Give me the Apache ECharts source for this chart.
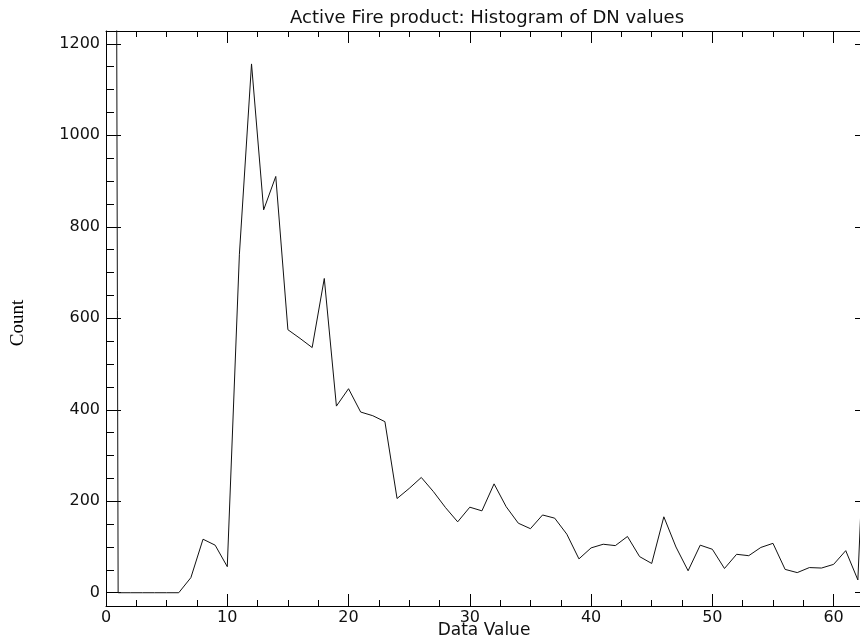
<!DOCTYPE html>
<html>
<head>
<meta charset="utf-8">
<title>Active Fire product: Histogram of DN values</title>
<script src="https://cdn.jsdelivr.net/npm/echarts@6/dist/echarts.min.js"></script>
<style>
  html, body { margin: 0; padding: 0; background: #fff; overflow: hidden; }
  /* the plot box runs slightly past the right edge of the window */
  #chart { width: 880px; height: 640px; }
</style>
</head>
<body>
<div id="chart"></div>
<script>
// Histogram of DN values (data value 0..63 -> pixel count)
const dnValues = [
  0, 1, 2, 3, 4, 5, 6, 7, 8, 9,
  10, 11, 12, 13, 14, 15, 16, 17, 18, 19,
  20, 21, 22, 23, 24, 25, 26, 27, 28, 29,
  30, 31, 32, 33, 34, 35, 36, 37, 38, 39,
  40, 41, 42, 43, 44, 45, 46, 47, 48, 49,
  50, 51, 52, 53, 54, 55, 56, 57, 58, 59,
  60, 61, 62, 63
];
const counts = [
  10500, 0, 0, 0, 0, 0, 0, 33, 117, 104,
  57, 740, 1156, 837, 910, 575, 556, 536, 687, 408,
  446, 395, 387, 374, 206, 228, 252, 221, 186, 155,
  187, 179, 238, 188, 152, 140, 170, 163, 128, 74,
  98, 106, 103, 123, 79, 64, 166, 100, 48, 104,
  95, 53, 84, 81, 99, 108, 51, 44, 55, 54,
  62, 92, 28, 650
];

// Axis ranges and tick positions
const xRange = [0, 63];
const yRange = [-29, 1228];
const xMajorTicks = [0, 10, 20, 30, 40, 50, 60];
const xMinorTicks = [2.5, 5, 7.5, 12.5, 15, 17.5, 22.5, 25, 27.5, 32.5, 35, 37.5,
                     42.5, 45, 47.5, 52.5, 55, 57.5, 62.5];
const yMajorTicks = [0, 200, 400, 600, 800, 1000, 1200];
const yMinorTicks = [50, 100, 150, 250, 300, 350, 450, 500, 550, 650, 700, 750,
                     850, 900, 950, 1050, 1100, 1150];

const titleText = 'Active Fire product: Histogram of DN values';
const xTitle = 'Data Value';
const yTitle = 'Count';

const INK = '#000';
const LABEL_FONT = '"DejaVu Sans", sans-serif';

function plainNumber(v) { return String(v); }

function xAxisDef(position, ticks, len, withLabels, withLine) {
  return {
    type: 'value', position: position, min: xRange[0], max: xRange[1],
    axisLine: { show: withLine, onZero: false, lineStyle: { color: INK, width: 1 } },
    axisTick: { show: true, inside: true, length: len, customValues: ticks,
                lineStyle: { color: INK, width: 1 } },
    axisLabel: withLabels ? {
      show: true, customValues: ticks, margin: 4, formatter: plainNumber,
      color: '#111', fontSize: 16, fontFamily: LABEL_FONT
    } : { show: false },
    splitLine: { show: false }
  };
}

function yAxisDef(position, ticks, len, withLabels, withLine) {
  return {
    type: 'value', position: position, min: yRange[0], max: yRange[1],
    axisLine: { show: withLine, onZero: false, lineStyle: { color: INK, width: 1 } },
    axisTick: { show: true, inside: true, length: len, customValues: ticks,
                lineStyle: { color: INK, width: 1 } },
    axisLabel: withLabels ? {
      show: true, customValues: ticks, margin: 6, formatter: plainNumber,
      color: '#111', fontSize: 16, fontFamily: LABEL_FONT
    } : { show: false },
    splitLine: { show: false }
  };
}

const chart = echarts.init(document.getElementById('chart'), null, { renderer: 'canvas' });

chart.setOption({
  backgroundColor: '#fff',
  animation: false,
  grid: { left: 106, top: 31, width: 764, height: 575, containLabel: false },
  xAxis: [
    xAxisDef('bottom', xMajorTicks, 12, true, true),
    xAxisDef('bottom', xMinorTicks, 6, false, false),
    xAxisDef('top', xMajorTicks, 12, false, true),
    xAxisDef('top', xMinorTicks, 6, false, false)
  ],
  yAxis: [
    yAxisDef('left', yMajorTicks, 15, true, true),
    yAxisDef('left', yMinorTicks, 8, false, false),
    yAxisDef('right', yMajorTicks, 15, false, true),
    yAxisDef('right', yMinorTicks, 8, false, false)
  ],
  series: [{
    type: 'line',
    xAxisIndex: 0,
    yAxisIndex: 0,
    data: dnValues.map((v, i) => [v, counts[i]]),
    showSymbol: false,
    clip: true,
    lineStyle: { color: '#111', width: 1 }
  }],
  graphic: [
    {
      type: 'text', x: 487, y: 18,
      style: { text: titleText, fill: '#111', fontSize: 18, fontFamily: LABEL_FONT,
               align: 'center', verticalAlign: 'middle' }
    },
    {
      type: 'text', x: 484, y: 631,
      style: { text: xTitle, fill: '#111', fontSize: 17, fontFamily: LABEL_FONT,
               align: 'center', verticalAlign: 'middle' }
    },
    {
      type: 'text', x: 18, y: 323, rotation: Math.PI / 2,
      style: { text: yTitle, fill: '#000', fontSize: 19,
               fontFamily: '"Liberation Serif", "Times New Roman", serif',
               align: 'center', verticalAlign: 'middle' }
    }
  ]
});
</script>
</body>
</html>
